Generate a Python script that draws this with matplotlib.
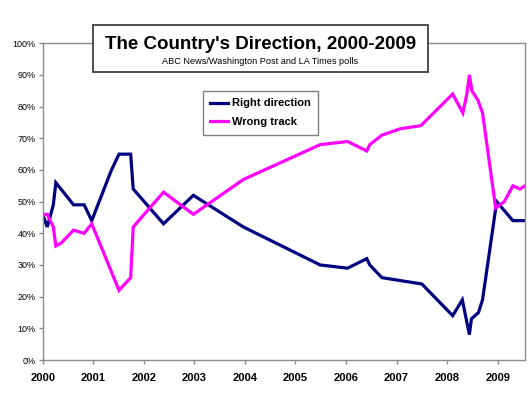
import matplotlib
matplotlib.use("Agg")
import matplotlib.pyplot as plt
from matplotlib.patches import Rectangle

plt.rcParams['font.family'] = ['Liberation Sans', 'DejaVu Sans']

# --- data ---
right_dates = [2000.0, 2000.09, 2000.21, 2000.26, 2000.41, 2000.61, 2000.82, 2000.97,
               2001.36, 2001.51, 2001.74, 2001.79, 2002.39, 2002.98, 2003.97, 2005.49,
               2006.03, 2006.41, 2006.47, 2006.71, 2007.50, 2008.11, 2008.30, 2008.44,
               2008.48, 2008.62, 2008.70, 2008.98, 2009.30, 2009.54]
right_direction = [46, 42, 49, 56, 53, 49, 49, 44,
                   60, 65, 65, 54, 43, 52, 42, 30,
                   29, 32, 30, 26, 24, 14, 19, 8,
                   13, 15, 19, 50, 44, 44]

wrong_dates = [2000.0, 2000.09, 2000.21, 2000.26, 2000.37, 2000.61, 2000.82, 2000.97,
               2001.51, 2001.74, 2001.79, 2002.39, 2002.98, 2003.97, 2005.49, 2006.03,
               2006.41, 2006.47, 2006.71, 2007.07, 2007.48, 2008.11, 2008.31, 2008.39,
               2008.44, 2008.49, 2008.61, 2008.70, 2008.96, 2009.13, 2009.30, 2009.44,
               2009.54]
wrong_track = [46, 46, 42, 36, 37, 41, 40, 43,
               22, 26, 42, 53, 46, 57, 68, 69,
               66, 68, 71, 73, 74, 84, 78, 84,
               90, 85, 82, 78, 48, 50, 55, 54,
               55]

year_ticks = list(range(2000, 2010))
year_labels = [str(y) for y in year_ticks]
pct_ticks = list(range(0, 101, 10))
pct_labels = [f"{p}%" for p in pct_ticks]

title = "The Country's Direction, 2000-2009"
subtitle = "ABC News/Washington Post and LA Times polls"

W, H = 531, 411
fig = plt.figure(figsize=(W / 100, H / 100), dpi=100)
ax = fig.add_axes([42.7 / W, 1 - 360 / H, (525 - 42.7) / W, (360 - 43.3) / H])

ax.plot(right_dates, right_direction, color='#000080', lw=2.3, label='Right direction',
        solid_joinstyle='miter')
ax.plot(wrong_dates, wrong_track, color='#FF00FF', lw=2.3, label='Wrong track',
        solid_joinstyle='miter')

ax.set_xlim(2000, 2009.54)
ax.set_ylim(0, 100)
ax.set_xticks(year_ticks)
ax.set_xticklabels(year_labels, fontsize=8, fontweight='bold')
ax.set_yticks(pct_ticks)
ax.set_yticklabels(pct_labels, fontsize=6.5)
for s in ax.spines.values():
    s.set_color('#8c8c8c')
    s.set_linewidth(1.0)
ax.tick_params(axis='both', direction='out', color='#8c8c8c', length=3, width=1)
ax.tick_params(axis='x', pad=6.5)
ax.tick_params(axis='y', pad=2)

leg = ax.legend(loc='upper left', bbox_to_anchor=(202.7 / W, 1 - 90.7 / H),
                bbox_transform=fig.transFigure, prop={'weight': 'bold', 'size': 8},
                frameon=True, fancybox=False, shadow=False, borderpad=0.7,
                handlelength=1.6, handletextpad=0.3, labelspacing=0.75, borderaxespad=0)
leg.get_frame().set_edgecolor('#808080')
leg.get_frame().set_linewidth(1.0)
leg.get_frame().set_alpha(1)
for line in leg.get_lines():
    line.set_linewidth(2.3)

# title box
box = Rectangle((92.7 / W, 1 - 71.7 / H), (427.7 - 92.7) / W, (71.7 - 25) / H,
                transform=fig.transFigure, facecolor='white', edgecolor='#404040',
                linewidth=1.3, zorder=5)
fig.patches.append(box)
fig.text(260.8 / W, 1 - 44.5 / H, title, ha='center', va='center', fontsize=13.5,
         fontweight='bold', zorder=6)
fig.text(260 / W, 1 - 61 / H, subtitle, ha='center', va='center', fontsize=6.6, zorder=6)

fig.savefig('out.png', dpi=100)
